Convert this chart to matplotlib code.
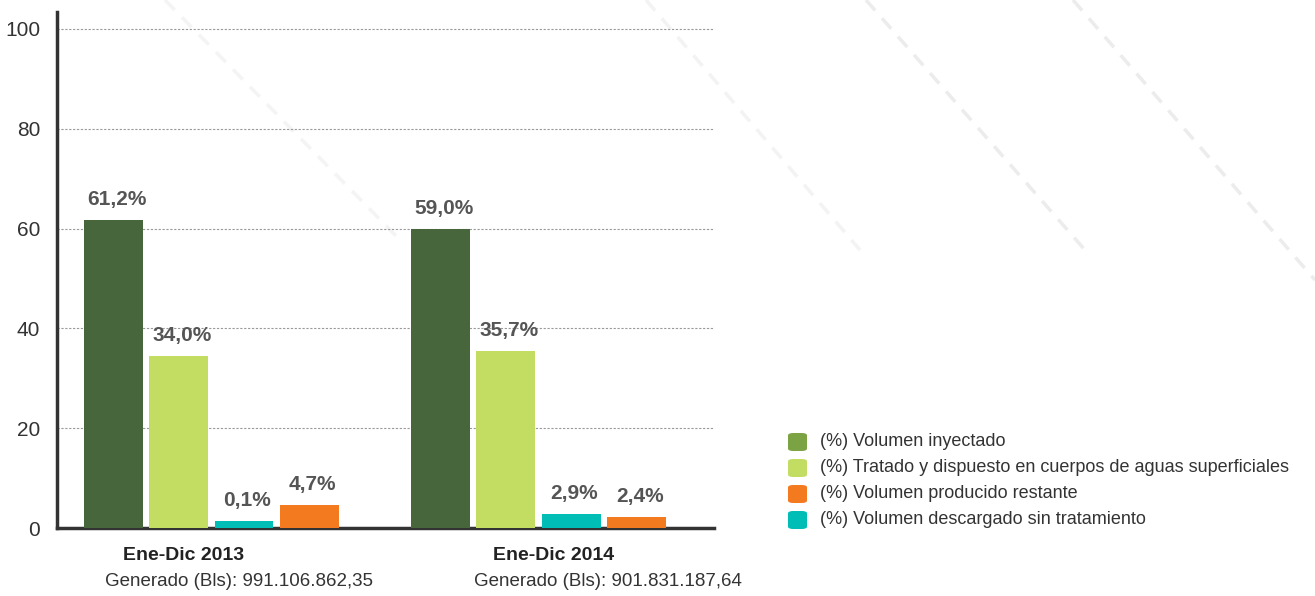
import matplotlib
matplotlib.use('Agg')
import matplotlib.pyplot as plt
from matplotlib.lines import Line2D
from matplotlib.patches import FancyBboxPatch
import numpy as np

plt.rcParams['font.family'] = ['Liberation Sans', 'DejaVu Sans']

# data
periods = ['Ene-Dic 2013', 'Ene-Dic 2014']
generated = ['Generado (Bls): 991.106.862,35', 'Generado (Bls): 901.831.187,64']
series = ['(%) Volumen inyectado',
          '(%) Tratado y dispuesto en cuerpos de aguas superficiales',
          '(%) Volumen descargado sin tratamiento',
          '(%) Volumen producido restante']
bar_2013 = [61.7, 34.4, 1.4, 4.7]
bar_2014 = [59.9, 35.4, 2.9, 2.3]
lab_2013 = ['61,2%', '34,0%', '0,1%', '4,7%']
lab_2014 = ['59,0%', '35,7%', '2,9%', '2,4%']

colors = ['#47663b', '#c3dc62', '#00bdb6', '#f47a20']
legend_colors = ['#7ba344', '#c3dc62', '#f47a20', '#00bdb6']
legend_labels = [series[0], series[1], series[3], series[2]]

fig = plt.figure(figsize=(13.15, 5.96), dpi=100)

# faint decorative dashed diagonals in the background
for (x0, y0, x1, y1, c) in [(165, 0, 400, 240, '#f4f4f4'), (646, 0, 860, 250, '#f3f3f3'),
                            (866, 0, 1085, 250, '#ececec'), (1073, 0, 1315, 280, '#ececec')]:
    fig.add_artist(Line2D([x0 / 1315, x1 / 1315], [1 - y0 / 596, 1 - y1 / 596],
                          color=c, lw=2.5, dashes=(4, 3), zorder=0))

ax = fig.add_axes([57 / 1315, 1 - 528 / 596, (714 - 57) / 1315, (528 - 12) / 596])
ax.patch.set_alpha(0)

x = np.arange(len(periods))
offs = [-0.3, -0.1, 0.1, 0.3]
vals = [bar_2013, bar_2014]
labs = [lab_2013, lab_2014]
for j in range(4):
    h = [vals[0][j], vals[1][j]]
    ax.bar(x + offs[j], h, width=0.18, color=colors[j], zorder=3)
    for i in range(2):
        ax.text(x[i] + offs[j] + 0.01, h[i] + 3, labs[i][j], ha='center', va='baseline',
                fontsize=15, fontweight='bold', color='#555555', zorder=4)

ax.set_xlim(-0.472, 1.537)
ax.set_ylim(0, 103.4)
ax.set_yticks([0, 20, 40, 60, 80, 100])
ax.set_xticks([])
ax.tick_params(axis='y', length=0, labelsize=15, labelcolor='#333333', pad=12)
ax.yaxis.grid(True, color='#999999', linestyle=(0, (2, 1.5)), linewidth=0.8)
ax.set_axisbelow(True)
for s in ['top', 'right']:
    ax.spines[s].set_visible(False)
ax.spines['left'].set_linewidth(2.5)
ax.spines['left'].set_color('#333333')
ax.spines['bottom'].set_linewidth(2.5)
ax.spines['bottom'].set_color('#333333')

# category captions under the axis
cap_x = [-0.086, 1.046]
gen_x = [0.083, 1.2125]
for i in range(2):
    ax.text(cap_x[i], -5.6, periods[i], ha='center', va='center', fontsize=14,
            fontweight='bold', color='#222222')
    ax.text(gen_x[i], -10.8, generated[i], ha='center', va='center', fontsize=13.5,
            color='#333333')

# legend with rounded squares
for k in range(4):
    yy = 1 - (442 + 26 * k) / 596
    fig.add_artist(FancyBboxPatch((788 / 1315, yy - 9 / 596), 19 / 1315, 18 / 596,
                                  boxstyle='round,pad=0,rounding_size=0.004',
                                  facecolor=legend_colors[k], edgecolor='none'))
    fig.text(820 / 1315, yy, legend_labels[k], ha='left', va='center',
             fontsize=13, color='#333333')

plt.savefig('out.png', dpi=100)
